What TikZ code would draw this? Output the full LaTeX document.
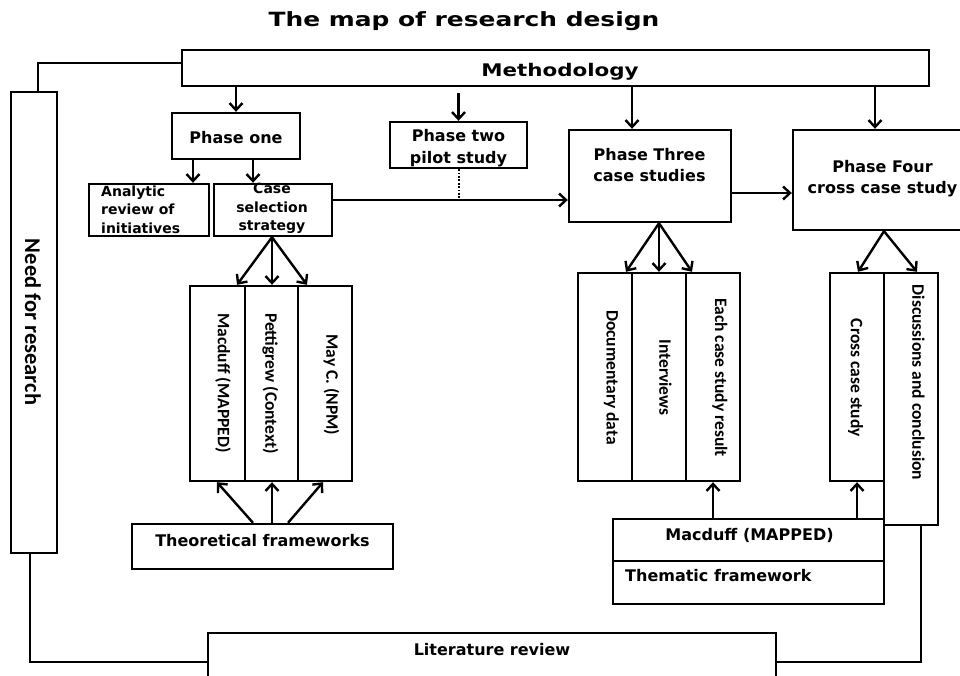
\documentclass[tikz,border=0pt]{standalone}
\usepackage{fontspec}
\usepackage{graphicx}
\usetikzlibrary{arrows.meta}
\newfontfamily\headfont{DejaVu Sans}
\newfontfamily\narrowfont{Carlito}

\tikzset{
  box/.style={draw, line width=2.4pt, inner sep=0pt, rectangle},
  lbl/.style={font=\headfont\bfseries\fontsize{16}{21}\selectfont, align=center, inner sep=0pt},
  smalllbl/.style={font=\headfont\bfseries\fontsize{14}{18.4}\selectfont, inner sep=0pt},
  vert/.style={font=\narrowfont\bfseries\fontsize{17.5}{20}\selectfont, rotate=-90, inner sep=0pt},
  link/.style={line width=2.4pt},
  arr/.style={line width=2.4pt, -{Straight Barb[length=7pt,width=13pt]}},
  dots/.style={line width=2pt, dash pattern=on 1.8pt off 1.6pt},
}

\begin{document}
\begin{tikzpicture}[x=1pt,y=-1pt]
\useasboundingbox (0,0) rectangle (960,675);
\fill[white] (0,0) rectangle (960,675);
\clip (0,0) rectangle (960,675);

% heading
\node[font=\headfont\bfseries\fontsize{19.6}{22}\selectfont, inner sep=0pt, anchor=base] (title) at (464,26)
  {\scalebox{1.27}[1]{The map of research design}};

% methodology bar and the side column
\node[box, minimum width=747pt, minimum height=36pt] (meth) at (555.5,68) {};
\node[font=\headfont\bfseries\fontsize{17.4}{20}\selectfont, inner sep=0pt, anchor=base] (methtxt) at (560,76)
  {\scalebox{1.23}[1]{Methodology}};

\node[box, minimum width=46pt, minimum height=461pt] (need) at (34,322.5) {};
\node[vert, font=\narrowfont\bfseries\fontsize{22.5}{24}\selectfont] (needtxt) at (33,322) {Need for research};

% phase boxes
\node[box, minimum width=128pt, minimum height=46pt] (p1) at (236,136) {};
\node[lbl, anchor=base] (p1txt) at (236,143.3) {Phase one};

\node[box, minimum width=120pt, minimum height=52pt] (ana) at (149,210) {};
\node[smalllbl, align=left, anchor=west] (anatxt) at (101,209.7) {Analytic\\review of\\initiatives};

\node[box, minimum width=118pt, minimum height=52pt] (cs) at (273,210) {};
\node[smalllbl, align=center] (cstxt) at (272,208.7) {Case\\selection\\strategy};

\node[box, minimum width=137pt, minimum height=46pt] (p2) at (458.5,145) {};
\node[lbl, font=\headfont\bfseries\fontsize{16}{22}\selectfont] (p2txt) at (458.5,148.2) {Phase two\\pilot study};

\node[box, minimum width=162pt, minimum height=92pt] (p3) at (650,176) {};
\node[lbl] (p3txt) at (649.5,165.4) {Phase Three\\case studies};

\node[box, minimum width=182pt, minimum height=100pt] (p4) at (884,180) {};
\node[lbl] (p4txt) at (882.5,178.4) {Phase Four\\cross case study};

% first group of columns
\node[box, minimum width=55pt, minimum height=195pt] (macc) at (217.5,383.5) {};
\node[box, minimum width=53pt, minimum height=195pt] (petc) at (271.5,383.5) {};
\node[box, minimum width=54pt, minimum height=195pt] (mayc) at (325,383.5) {};
\node[vert] (macctxt) at (223,383) {Macduff (MAPPED)};
\node[vert] (petctxt) at (270.5,383.5) {Pettigrew (Context)};
\node[vert] (mayctxt) at (331.5,385) {May C. (NPM)};

\node[box, minimum width=261pt, minimum height=45pt] (tf) at (262.5,546.5) {};
\node[lbl, anchor=base] (tftxt) at (262.5,546.7) {Theoretical frameworks};

% second group of columns
\node[box, minimum width=54pt, minimum height=208pt] (docc) at (605,377) {};
\node[box, minimum width=54pt, minimum height=208pt] (intc) at (659,377) {};
\node[box, minimum width=54pt, minimum height=208pt] (eacc) at (713,377) {};
\node[vert] (docctxt) at (611.5,377.5) {Documentary data};
\node[vert] (intctxt) at (665.5,377.5) {Interviews};
\node[vert] (eacctxt) at (720,377.5) {Each case study result};

% third group of columns
\node[box, minimum width=54pt, minimum height=208pt] (crsc) at (857,377) {};
\node[box, minimum width=54pt, minimum height=252pt] (disc) at (911,399) {};
\node[vert] (crsctxt) at (855.5,378) {Cross case study};
\node[vert] (disctxt) at (918.5,382.5) {Discussions and conclusion};

% thematic framework block
\node[box, minimum width=271pt, minimum height=42pt] (macA) at (748.5,540) {};
\node[box, minimum width=271pt, minimum height=43pt] (macB) at (748.5,582.5) {};
\node[lbl, anchor=base] (macAtxt) at (749.5,540) {Macduff (MAPPED)};
\node[lbl, anchor=base west] (macBtxt) at (625,581.7) {Thematic framework};

% literature review
\node[box, minimum width=568pt, minimum height=67pt] (lit) at (492,666.5) {};
\node[lbl, anchor=base] (littxt) at (492,655) {Literature review};

% connectors from the methodology bar
\draw[link] (meth.west |- 0,63) -| (need.north -| 38,0);
\draw[arr] (meth.south -| p1.north) -- (p1.north);
\draw[arr, shorten <=6pt] (meth.south -| p2.north) -- (p2.north);
\draw[arr] (meth.south -| 632,0) -- (p3.north -| 632,0);
\draw[arr] (meth.south -| 875,0) -- (p4.north -| 875,0);

% phase one
\draw[arr] (p1.south -| 193,0) -- (ana.north -| 193,0);
\draw[arr] (p1.south -| 253,0) -- (cs.north -| 253,0);
\draw[arr] (cs.south -| 272,0) -- (macc.north -| 237,0);
\draw[arr] (cs.south -| 272,0) -- (petc.north -| 272,0);
\draw[arr] (cs.south -| 272,0) -- (mayc.north -| 307,0);
\draw[arr] (tf.north -| 253,0) -- (macc.south -| 217,0);
\draw[arr] (tf.north -| 272,0) -- (petc.south -| 272,0);
\draw[arr] (tf.north -| 288,0) -- (mayc.south -| 323,0);

% pilot study and the main flow
\draw[dots] (p2.south) -- (p2.south |- 0,200);
\draw[arr] (cs.east |- 0,200) -- (p3.west |- 0,200);
\draw[arr] (p3.east |- 0,193) -- (p4.west |- 0,193);

% phase three and four
\draw[arr] (p3.south -| 659,0) -- (docc.north -| 626,0);
\draw[arr] (p3.south -| 659,0) -- (intc.north -| 659,0);
\draw[arr] (p3.south -| 659,0) -- (eacc.north -| 692,0);
\draw[arr] (p4.south -| 884,0) -- (crsc.north -| 858,0);
\draw[arr] (p4.south -| 884,0) -- (disc.north -| 917,0);
\draw[arr] (macA.north -| 713,0) -- (eacc.south -| 713,0);
\draw[arr] (macA.north -| 857,0) -- (crsc.south -| 857,0);

% links down to the literature review
\draw[link] (need.south -| 30,0) |- (lit.west |- 0,662);
\draw[link] (disc.south -| 921,0) |- (lit.east |- 0,662);
\end{tikzpicture}
\end{document}
